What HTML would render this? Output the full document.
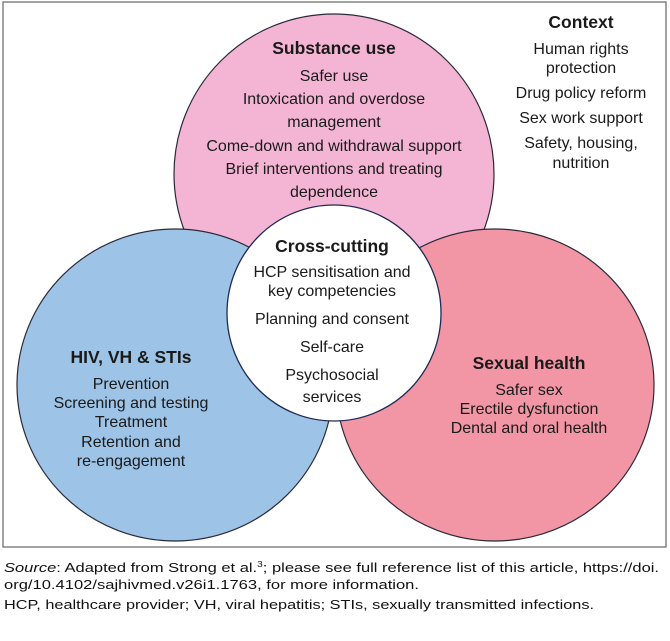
<!DOCTYPE html>
<html><head><meta charset="utf-8"><style>
html,body{margin:0;padding:0;background:#fff;}
svg{display:block;font-family:"Liberation Sans",Arial,sans-serif;}
</style></head><body>
<svg width="670" height="641" viewBox="0 0 670 641" xmlns="http://www.w3.org/2000/svg">
<rect x="3" y="2" width="663" height="545" fill="#fff" stroke="#666" stroke-width="1.2"/>
<ellipse cx="334" cy="174" rx="160" ry="160" fill="#f4b5d5" stroke="#2a2a3a" stroke-width="1.2"/>
<ellipse cx="175" cy="385" rx="158" ry="156" fill="#9dc3e6" stroke="#2a2a3a" stroke-width="1.2"/>
<ellipse cx="495" cy="385" rx="159" ry="156" fill="#f296a6" stroke="#2a2a3a" stroke-width="1.2"/>
<ellipse cx="334" cy="313" rx="107" ry="108" fill="#fff" stroke="#1f2a55" stroke-width="1.3"/>
<g fill="#1a1a1a" text-anchor="middle" font-size="16">
<text x="334" y="54" font-weight="bold" font-size="17.5">Substance use</text>
<text x="334" y="81">Safer use</text>
<text x="334" y="104">Intoxication and overdose</text>
<text x="334" y="127">management</text>
<text x="334" y="151">Come-down and withdrawal support</text>
<text x="334" y="174">Brief interventions and treating</text>
<text x="334" y="197">dependence</text>

<text x="581" y="28" font-weight="bold" font-size="17.5">Context</text>
<text x="581" y="54">Human rights</text>
<text x="581" y="73">protection</text>
<text x="581" y="98">Drug policy reform</text>
<text x="581" y="123">Sex work support</text>
<text x="581" y="148">Safety, housing,</text>
<text x="581" y="168">nutrition</text>

<text x="332" y="252" font-weight="bold" font-size="17.5">Cross-cutting</text>
<text x="332" y="277">HCP sensitisation and</text>
<text x="332" y="296">key competencies</text>
<text x="332" y="324">Planning and consent</text>
<text x="332" y="352">Self-care</text>
<text x="332" y="380">Psychosocial</text>
<text x="332" y="402">services</text>

<text x="131" y="363" font-weight="bold" font-size="17.5">HIV, VH &amp; STIs</text>
<text x="131" y="389">Prevention</text>
<text x="131" y="408">Screening and testing</text>
<text x="131" y="427">Treatment</text>
<text x="131" y="447">Retention and</text>
<text x="131" y="466">re-engagement</text>

<text x="529" y="369" font-weight="bold" font-size="17.5">Sexual health</text>
<text x="529" y="395">Safer sex</text>
<text x="529" y="414">Erectile dysfunction</text>
<text x="529" y="433">Dental and oral health</text>
</g>
<g fill="#111" font-size="13">
<text x="4" y="572" textLength="655" lengthAdjust="spacingAndGlyphs"><tspan font-style="italic">Source</tspan>: Adapted from Strong et al.<tspan font-size="8" dy="-5">3</tspan><tspan dy="5">; please see full reference list of this article, https://doi.</tspan></text>
<text x="4" y="589" textLength="415" lengthAdjust="spacingAndGlyphs">org/10.4102/sajhivmed.v26i1.1763, for more information.</text>
<text x="4" y="609" textLength="590" lengthAdjust="spacingAndGlyphs">HCP, healthcare provider; VH, viral hepatitis; STIs, sexually transmitted infections.</text>
</g>
</svg>
</body></html>
